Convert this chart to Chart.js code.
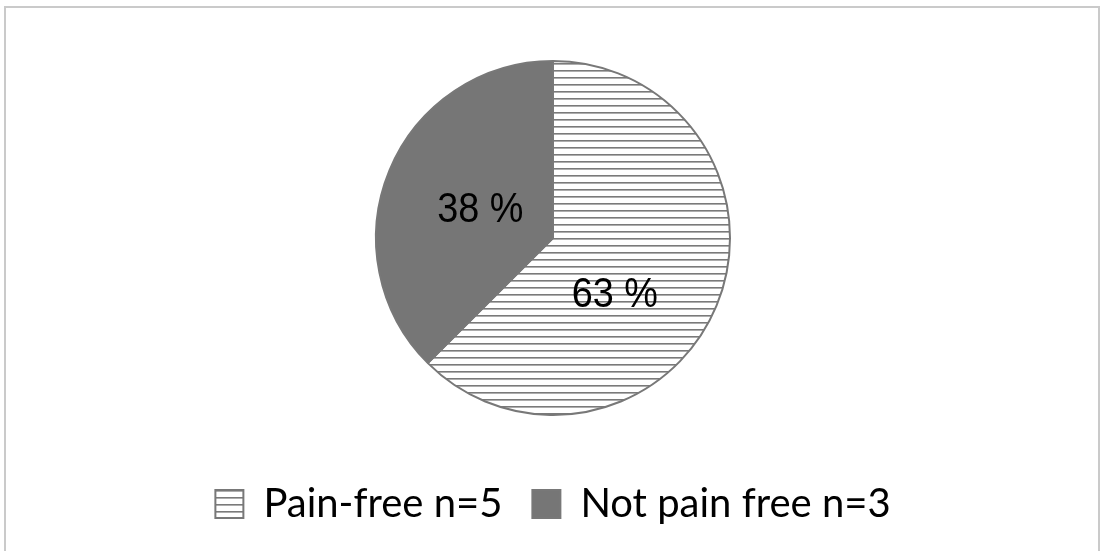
<!DOCTYPE html>
<html>
<head>
<meta charset="utf-8">
<script src="https://cdn.jsdelivr.net/npm/chart.js@4.4.1/dist/chart.umd.min.js"></script>
<style>
  html, body { margin: 0; padding: 0; background: #fff; overflow: hidden; }
  #wrap { position: relative; width: 1104px; height: 551px; }
  #frame { position: absolute; left: 4px; top: 6px; width: 1092px; height: 560px; border: 2px solid #cacaca; }
  #chart { position: absolute; left: 0; top: 0; }
</style>
</head>
<body>
<div id="wrap">
  <div id="frame"></div>
  <canvas id="chart" width="1104" height="551"></canvas>
</div>
<script>
var categories = ['Pain-free n=5', 'Not pain free n=3'];
var counts = [5, 3];

// horizontal stripes for the pain-free slice
function stripes() {
  var c = document.createElement('canvas');
  c.width = 8; c.height = 7;
  var g = c.getContext('2d');
  g.fillStyle = '#ffffff';
  g.fillRect(0, 0, 8, 7);
  g.fillStyle = '#7a7a7a';
  g.fillRect(0, 0, 8, 1);
  g.fillStyle = '#adadad';
  g.fillRect(0, 1, 8, 1);
  return g.createPattern(c, 'repeat');
}

var total = counts.reduce(function(a, b) { return a + b; }, 0);

// percent labels inside the slices, narrow font
var sliceLabels = {
  id: 'sliceLabels',
  afterDatasetsDraw: function(chart, args, opts) {
    var ctx = chart.ctx;
    var arcs = chart.getDatasetMeta(0).data;
    arcs.forEach(function(arc, i) {
      var p = opts.place[i];
      var a = p.angle * Math.PI / 180;
      var x = arc.x + Math.cos(a) * arc.outerRadius * p.dist;
      var y = arc.y + Math.sin(a) * arc.outerRadius * p.dist;
      var txt = Math.round(counts[i] / total * 100) + ' %';
      ctx.save();
      ctx.translate(x, y);
      ctx.scale(0.88, 1);
      ctx.font = '43px "Liberation Sans", Arial, sans-serif';
      ctx.fillStyle = '#000';
      ctx.textAlign = 'center';
      ctx.textBaseline = 'middle';
      ctx.fillText(txt, 0, 0);
      ctx.restore();
    });
  }
};

new Chart(document.getElementById('chart'), {
  type: 'pie',
  data: {
    labels: categories,
    datasets: [{
      data: counts,
      backgroundColor: [stripes(), '#767676'],
      borderColor: '#787878',
      borderWidth: 2,
      radius: 177
    }]
  },
  options: {
    responsive: false,
    animation: false,
    layout: { padding: { top: 22, left: 2, right: 0, bottom: 17 } },
    plugins: {
      tooltip: { enabled: false },
      legend: {
        position: 'bottom',
        labels: {
          boxWidth: 28,
          boxHeight: 28,
          padding: 30,
          color: '#000',
          font: { family: 'Lato', size: 40 }
        }
      },
      sliceLabels: {
        place: [{ angle: 42.6, dist: 0.475 }, { angle: 201, dist: 0.44 }]
      }
    }
  },
  plugins: [sliceLabels]
});
</script>
</body>
</html>
